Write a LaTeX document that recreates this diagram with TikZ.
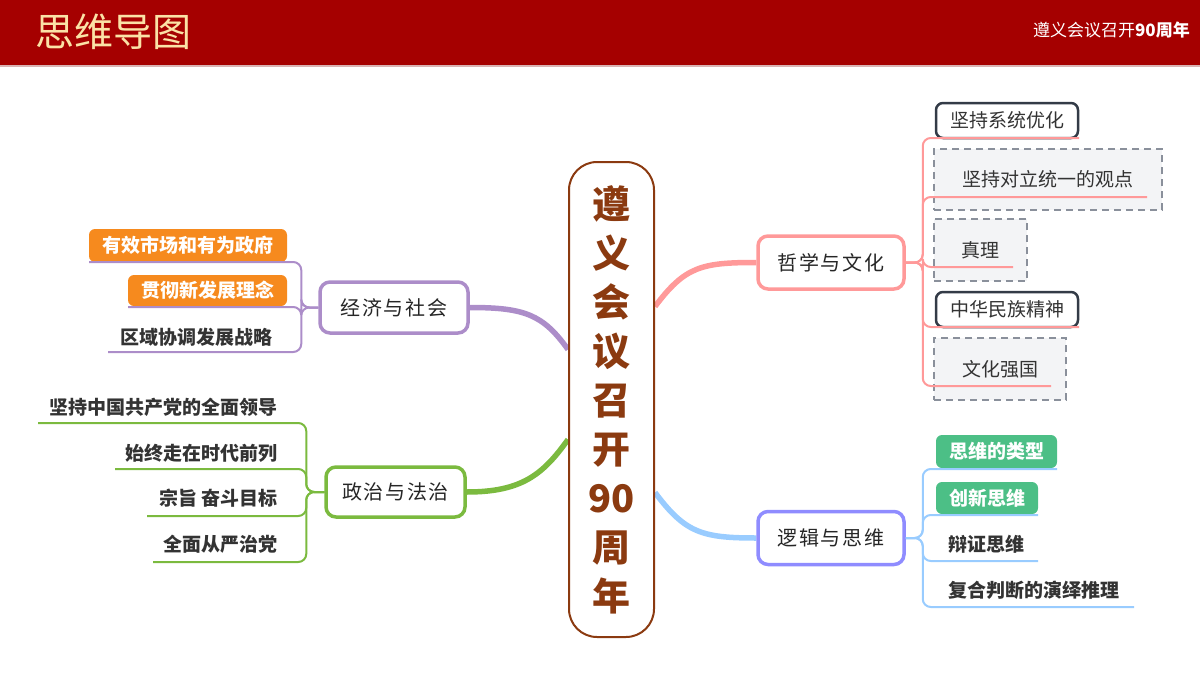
\documentclass[tikz,border=0pt]{standalone}
\usepackage{fontspec}
\setmainfont{Noto Sans CJK SC}
\newfontfamily\kai[LetterSpace=8]{Noto Sans CJK SC}
\usetikzlibrary{backgrounds}

\definecolor{barred}{HTML}{A50000}
\definecolor{barline}{HTML}{D9B3B3}
\definecolor{gold}{HTML}{FBE2A6}
\definecolor{hubbrown}{HTML}{8B3A10}
\definecolor{ink}{HTML}{333333}
\definecolor{pinkl}{HTML}{FF9999}
\definecolor{bluel}{HTML}{99CCFF}
\definecolor{bluen}{HTML}{8F8CFF}
\definecolor{purl}{HTML}{AC8DC9}
\definecolor{grnl}{HTML}{7BBA3F}
\definecolor{slate}{HTML}{333B47}
\definecolor{ghostgray}{HTML}{8A909B}
\definecolor{ghostfill}{HTML}{F3F4F6}
\definecolor{orng}{HTML}{F68A1E}
\definecolor{mint}{HTML}{4CBF86}

\begin{document}
\begin{tikzpicture}[
  x=1pt,
  y=-1pt,
  hub/.style={draw=hubbrown,line width=2pt,rounded corners=28pt,fill=white,
    minimum width=85pt,minimum height=475pt,align=center,text=hubbrown,
    font=\fontsize{38}{49}\selectfont\bfseries},
  topic/.style={draw=#1,line width=3.5pt,rounded corners=10pt,fill=white,
    minimum width=146pt,minimum height=53pt,text=black!85,font=\kai\fontsize{20}{20}\selectfont},
  solidbox/.style={draw=slate,line width=2.5pt,rounded corners=7pt,fill=white,
    minimum width=142pt,minimum height=35pt,inner sep=0pt,text=ink,
    font=\fontsize{19}{19}\selectfont},
  ghost/.style={draw=ghostgray,dash pattern=on 7pt off 5pt,line width=2pt,fill=ghostfill,
    inner sep=0pt,text=ink,font=\fontsize{19}{19}\selectfont},
  tagbox/.style={fill=#1,rounded corners=6pt,inner sep=0pt,text=white,
    font=\fontsize{19}{19}\selectfont\bfseries},
  leaf/.style={inner sep=0pt,text=ink,font=\fontsize{19}{19}\selectfont\bfseries},
  limb/.style={draw=#1,line width=5.5pt},
  twig/.style={draw=#1,line width=2pt,rounded corners=8pt}
]
\useasboundingbox (0,0) rectangle (1200,675);

% header
\fill[barred] (0,0) rectangle (1200,65);
\draw[barline,line width=1.5pt] (0,66) -- (1200,66);
\node[anchor=west,inner sep=0pt,text=gold,font=\fontsize{39}{39}\selectfont] (title) at (35,32) {思维导图};
\node[anchor=east,inner sep=0pt,text=white,font=\fontsize{17}{17}\selectfont] (sub) at (1190,30) {遵义会议召开\textbf{90周年}};

% centre and main topics
\node[hub] (ctr) at (611.5,399.5) {遵\\义\\会\\议\\召\\开\\90\\周\\年};
\node[topic=pinkl] (phil) at (831,262.5) {哲学与文化};
\node[topic=bluen] (logic) at (831,538) {逻辑与思维};
\node[topic=purl,minimum width=148pt,minimum height=51pt] (eco) at (394,307.5) {经济与社会};
\node[topic=grnl,minimum width=139pt,minimum height=50pt] (pol) at (395.5,492) {政治与法治};

\begin{pgfonlayer}{background}
\draw[limb=pinkl] ([yshift=93pt]ctr.east) .. controls +(30,-40) and +(-55,0) .. (phil.west);
\draw[limb=bluel] ([yshift=-93pt]ctr.east) .. controls +(30,40) and +(-55,0) .. (logic.west);
\draw[limb=purl] (eco.east) .. controls +(55,0) and +(-25,-35) .. ([yshift=50pt]ctr.west);
\draw[limb=grnl] (pol.east) .. controls +(55,0) and +(-25,35) .. ([yshift=-40pt]ctr.west);
\end{pgfonlayer}

% philosophy
\node[solidbox] (c1) at (1007,120.5) {坚持系统优化};
\node[ghost,minimum width=228pt,minimum height=61pt] (c2) at (1048,179.5) {坚持对立统一的观点};
\node[ghost,minimum width=93pt,minimum height=62pt] (c3) at (980.5,250) {真理};
\node[solidbox] (c4) at (1007,309.5) {中华民族精神};
\node[ghost,minimum width=132pt,minimum height=62pt] (c5) at (1000,369) {文化强国};
\coordinate (c1u) at (1079,138);
\coordinate (c2u) at (1147,197);
\coordinate (c3u) at (1013,267);
\coordinate (c4u) at (1079,327);
\coordinate (c5u) at (1051,386);
\foreach \u in {c1u,c2u,c3u,c4u,c5u}
  \draw[twig=pinkl] (phil.east) -- ++(17,0) |- (\u);

% logic
\node[tagbox=mint,minimum width=121pt,minimum height=33pt] (b1) at (996.5,451.5) {思维的类型};
\node[tagbox=mint,minimum width=102pt,minimum height=32pt] (b2) at (987,498) {创新思维};
\node[leaf,anchor=west] (b3) at (948,544) {辩证思维};
\node[leaf,anchor=west] (b4) at (948,590) {复合判断的演绎推理};
\coordinate (b1u) at (1057,469);
\coordinate (b2u) at (1038,515);
\coordinate (b3u) at (1038,561);
\coordinate (b4u) at (1134,607);
\foreach \u in {b1u,b2u,b3u,b4u}
  \draw[twig=bluel] (logic.east) -- ++(17,0) |- (\u);

% economy
\node[tagbox=orng,minimum width=198pt,minimum height=33pt] (o1) at (188,245.5) {有效市场和有为政府};
\node[tagbox=orng,minimum width=159pt,minimum height=31pt] (o2) at (207.5,290.5) {贯彻新发展理念};
\node[leaf,anchor=east] (r3) at (273,337) {区域协调发展战略};
\coordinate (o1u) at (89,262);
\coordinate (o2u) at (128,307);
\coordinate (r3u) at (108,352);
\foreach \u in {o1u,o2u,r3u}
  \draw[twig=purl] (eco.west) -- ++(-17,0) |- (\u);

% politics
\node[leaf,anchor=east] (g1) at (278,407) {坚持中国共产党的全面领导};
\node[leaf,anchor=east] (g2) at (278,453) {始终走在时代前列};
\node[leaf,anchor=east] (g3) at (278,498) {宗旨 奋斗目标};
\node[leaf,anchor=east] (g4) at (278,544) {全面从严治党};
\coordinate (g1u) at (38,423);
\coordinate (g2u) at (115,469);
\coordinate (g3u) at (147,516);
\coordinate (g4u) at (153,562);
\foreach \u in {g1u,g2u,g3u,g4u}
  \draw[twig=grnl] (pol.west) -- ++(-18,0) |- (\u);
\end{tikzpicture}
\end{document}
